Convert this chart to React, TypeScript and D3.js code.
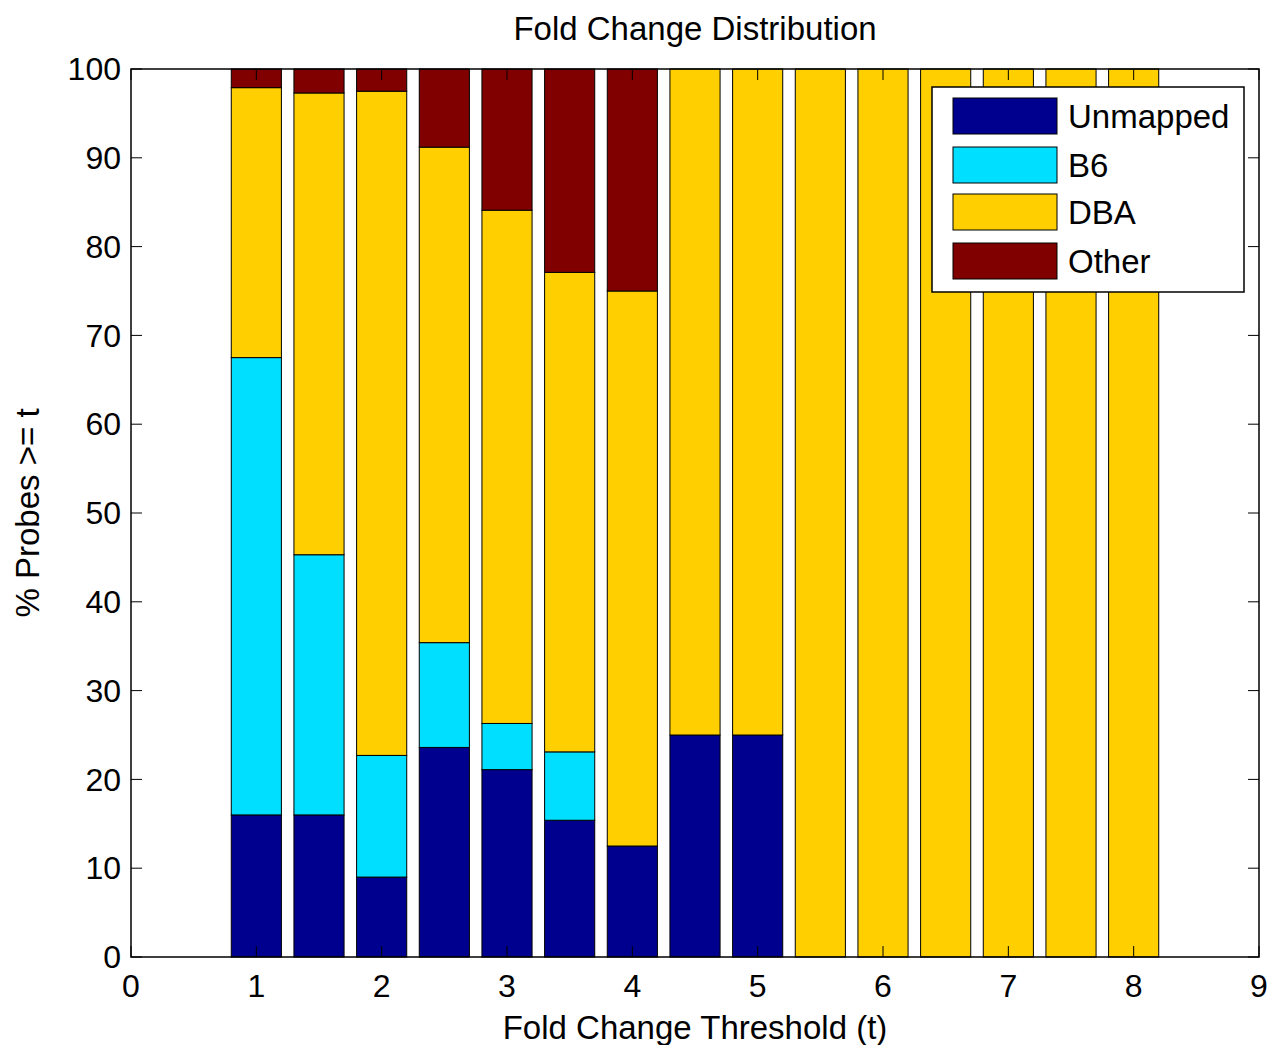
import React from "react";
import * as d3 from "d3";

// fold change thresholds (bar positions)
const thresholds = [1, 1.5, 2, 2.5, 3, 3.5, 4, 4.5, 5, 5.5, 6, 6.5, 7, 7.5, 8];
const seriesNames = ["Unmapped", "B6", "DBA", "Other"];
const unmapped = [16.0, 16.0, 9.0, 23.6, 21.1, 15.4, 12.5, 25, 25, 0, 0, 0, 0, 0, 0];
const b6 = [51.5, 29.3, 13.7, 11.8, 5.2, 7.7, 0, 0, 0, 0, 0, 0, 0, 0, 0];
const dba = [30.4, 52.0, 74.8, 55.8, 57.8, 54.0, 62.5, 75, 75, 100, 100, 100, 100, 100, 100];
const other = [2.1, 2.7, 2.5, 8.8, 15.9, 22.9, 25, 0, 0, 0, 0, 0, 0, 0, 0];
const colors = ["#00008f", "#00dfff", "#ffcf00", "#800000"];
const xTicks = [0, 1, 2, 3, 4, 5, 6, 7, 8, 9];
const yTicks = [0, 10, 20, 30, 40, 50, 60, 70, 80, 90, 100];

const W = 1273;
const H = 1045;
const margin = { top: 69, right: 14, bottom: 88, left: 131 };
const font = "'Liberation Sans', Arial, Helvetica, sans-serif";
const fs = 32;

export default function App() {
  const x = d3.scaleLinear().domain([0, 9]).range([margin.left, W - margin.right]);
  const y = d3.scaleLinear().domain([0, 100]).range([H - margin.bottom, margin.top]);

  const rows = thresholds.map((t, i) => ({
    t,
    Unmapped: unmapped[i],
    B6: b6[i],
    DBA: dba[i],
    Other: other[i],
  }));
  const stacked = d3.stack<any>().keys(seriesNames)(rows);
  const barW = x(0.4) - x(0);
  const tickLen = 11;

  const legend = { x: 932, y: 87, w: 312, h: 205 };

  return (
    <svg width={W} height={H} style={{ position: "absolute", left: 0, top: 0, background: "#fff" }} fontFamily={font}>
      <rect x={0} y={0} width={W} height={H} fill="#fff" />
      {/* bars */}
      {stacked.map((layer, k) => (
        <g key={seriesNames[k]} fill={colors[k]}>
          {layer.map((d, i) =>
            d[1] - d[0] > 0 ? (
              <rect
                key={i}
                x={x(thresholds[i]) - barW / 2}
                y={y(d[1])}
                width={barW}
                height={y(d[0]) - y(d[1])}
                stroke="#000"
                strokeWidth={1}
              />
            ) : null
          )}
        </g>
      ))}
      {/* axes box */}
      <rect
        x={x(0)}
        y={y(100)}
        width={x(9) - x(0)}
        height={y(0) - y(100)}
        fill="none"
        stroke="#000"
        strokeWidth={1.5}
      />
      {/* y ticks */}
      {yTicks.map((v) => (
        <g key={"y" + v}>
          <line x1={x(0)} x2={x(0) + tickLen} y1={y(v)} y2={y(v)} stroke="#000" />
          <line x1={x(9)} x2={x(9) - tickLen} y1={y(v)} y2={y(v)} stroke="#000" />
          <text x={x(0) - 10} y={y(v)} dy="0.35em" textAnchor="end" fontSize={fs}>
            {v}
          </text>
        </g>
      ))}
      {/* x ticks */}
      {xTicks.map((v) => (
        <g key={"x" + v}>
          <line x1={x(v)} x2={x(v)} y1={y(0)} y2={y(0) - tickLen} stroke="#000" />
          <line x1={x(v)} x2={x(v)} y1={y(100)} y2={y(100) + tickLen} stroke="#000" />
          <text x={x(v)} y={y(0) + 40} textAnchor="middle" fontSize={fs}>
            {v}
          </text>
        </g>
      ))}
      {/* title & labels */}
      <text x={(x(0) + x(9)) / 2} y={40} textAnchor="middle" fontSize={33}>
        Fold Change Distribution
      </text>
      <text x={(x(0) + x(9)) / 2} y={1039} textAnchor="middle" fontSize={33}>
        Fold Change Threshold (t)
      </text>
      <text
        transform={`translate(39,${(y(0) + y(100)) / 2}) rotate(-90)`}
        textAnchor="middle"
        fontSize={33}
      >
        % Probes &gt;= t
      </text>
      {/* legend */}
      <rect x={legend.x} y={legend.y} width={legend.w} height={legend.h} fill="#fff" stroke="#000" strokeWidth={1.5} />
      {seriesNames.map((name, k) => {
        const ly = [98, 147, 194, 243][k];
        return (
          <g key={name}>
            <rect x={953} y={ly} width={104} height={36} fill={colors[k]} stroke="#000" strokeWidth={1} />
            <text x={1068} y={ly + 18} dy="0.35em" fontSize={33}>
              {name}
            </text>
          </g>
        );
      })}
    </svg>
  );
}
